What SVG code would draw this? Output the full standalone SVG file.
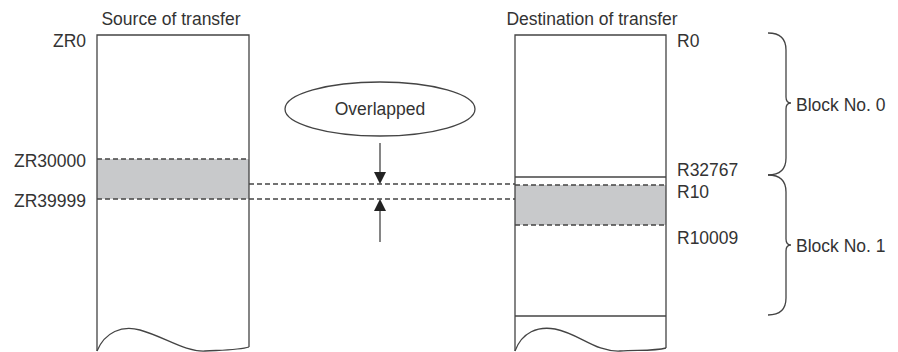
<svg xmlns="http://www.w3.org/2000/svg" width="898" height="352" viewBox="0 0 898 352">
<style>
text{font-family:"Liberation Sans",Arial,sans-serif;font-size:17.5px;fill:#333}
.ln{fill:none;stroke:#444;stroke-width:1.3}
.ds{fill:none;stroke:#444;stroke-width:1.3;stroke-dasharray:5,3}
.sh{fill:#c8c9cb;stroke:none}
.end{text-anchor:end}
.mid{text-anchor:middle}
</style>
<rect width="898" height="352" fill="#fff"/>
<g id="source">
<text x="171" y="25" class="mid">Source of transfer</text>
<rect class="sh" x="97" y="159" width="152" height="40"/>
<path class="ln" d="M97,351 L97,35 L249,35 L249,347"/>
<path class="ln" d="M97,351 C105,332 122,325 140,330 C165,337 185,352 205,351 C225,350 240,350 249,347"/>
<line class="ds" x1="97" y1="159" x2="249" y2="159"/>
<line class="ds" x1="97" y1="199" x2="249" y2="199"/>
<text x="86" y="47" class="end">ZR0</text>
<text x="86" y="167" class="end">ZR30000</text>
<text x="86" y="207" class="end">ZR39999</text>
</g>
<g id="destination">
<text x="592" y="25" class="mid">Destination of transfer</text>
<rect class="sh" x="515" y="185" width="151" height="40"/>
<path class="ln" d="M515,351 L515,35 L666,35 L666,348"/>
<line class="ln" x1="515" y1="177" x2="666" y2="177"/>
<line class="ln" x1="515" y1="316" x2="666" y2="316"/>
<path class="ln" d="M515,351 C522,332 538,326 555,329 C580,334 595,352 620,351 C640,350 655,351 666,348"/>
<line class="ds" x1="515" y1="185" x2="666" y2="185"/>
<line class="ds" x1="515" y1="225" x2="666" y2="225"/>
<text x="677" y="47">R0</text>
<text x="677" y="176">R32767</text>
<text x="677" y="198">R10</text>
<text x="677" y="244">R10009</text>
</g>
<g id="overlapped">
<ellipse class="ln" cx="380" cy="109" rx="95" ry="27"/>
<text x="380" y="115" class="mid">Overlapped</text>
</g>
<g id="block0">
<path class="ln" d="M768,33 Q786,33 786,50 L786,97 Q786,103 791,103 Q786,103 786,109 L786,158 Q786,175 768,175"/>
<text x="796" y="111">Block No. 0</text>
</g>
<g id="block1">
<path class="ln" d="M768,175 Q786,175 786,192 L786,239 Q786,245 791,245 Q786,245 786,251 L786,298 Q786,315 768,315"/>
<text x="796" y="252">Block No. 1</text>
</g>
<g id="connectors">
<line class="ds" x1="249" y1="184" x2="515" y2="184"/>
<line class="ds" x1="249" y1="199" x2="515" y2="199"/>
<line class="ln" x1="380" y1="143" x2="380" y2="173"/>
<polygon points="374,172 386,172 380,184" fill="#222"/>
<line class="ln" x1="380" y1="242" x2="380" y2="210"/>
<polygon points="374,211 386,211 380,199" fill="#222"/>
</g>
</svg>
